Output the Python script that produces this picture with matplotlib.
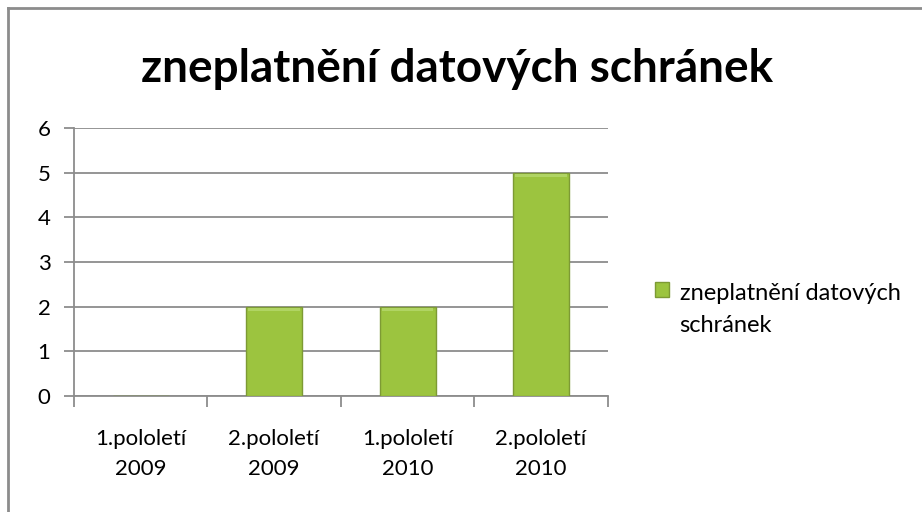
import matplotlib
matplotlib.use("Agg")
import matplotlib.pyplot as plt
from matplotlib.lines import Line2D
from matplotlib.patches import Patch
import numpy as np

categories = ["1.pololetí\n2009", "2.pololetí\n2009", "1.pololetí\n2010", "2.pololetí\n2010"]
values = [0, 2, 2, 5]
series_name = "zneplatnění datových\nschránek"
title = "zneplatnění datových schránek"

plt.rcParams['font.family'] = ['Lato', 'DejaVu Sans']

fig = plt.figure(figsize=(9.22, 5.12), dpi=100)
ax = fig.add_axes([0.0803, 0.2266, 0.5787, 0.5234])

x = np.arange(len(categories))
bars = ax.bar(x, values, width=0.42, color="#9cc43f", edgecolor="#7d9a34", linewidth=1.0, zorder=3)
# light top bevel
for b, v in zip(bars, values):
    if v > 0:
        ax.bar(b.get_x() + b.get_width() / 2, 0.08, bottom=v - 0.1, width=b.get_width() * 0.92,
               color="#b0d463", linewidth=0, zorder=4)

ax.set_xlim(-0.5, 3.5)
ax.set_ylim(0, 6)
ax.set_yticks(range(0, 7))
ax.yaxis.grid(True, color="#8c8c8c", linewidth=1.3, zorder=0)
ax.set_xticks(x)
ax.set_xticklabels(categories, fontsize=16, linespacing=1.6)
ax.set_xticks(np.arange(-0.5, 4.0, 1.0), minor=True)
ax.tick_params(axis='x', which='major', length=0, pad=24)
ax.tick_params(axis='x', which='minor', length=8, width=1.3, color="#8c8c8c", direction='out')
ax.tick_params(axis='y', length=7, width=1.3, color="#8c8c8c", labelsize=16, pad=10)
for s in ["top", "right"]:
    ax.spines[s].set_visible(False)
for s in ["left", "bottom"]:
    ax.spines[s].set_color("#8c8c8c")
    ax.spines[s].set_linewidth(1.3)
ax.set_axisbelow(True)

fig.text(0.496, 0.865, title, ha="center", va="center", fontsize=33, fontweight="bold")

handle = Patch(facecolor="#9cc43f", edgecolor="#7d9a34")
leg = fig.legend([handle], [series_name], loc="upper left", bbox_to_anchor=(0.700, 0.465),
                 frameon=False, fontsize=17, handlelength=0.6, handleheight=0.6,
                 handletextpad=0.45, borderaxespad=0)
for t in leg.get_texts():
    t.set_linespacing(1.65)
# align the legend swatch with the first text line
for h in leg.legend_handles:
    h.set_y(h.get_y() + 15)

# outer chart border (top and left visible)
fig.add_artist(Line2D([0.0087, 0.0087], [0, 1 - 8 / 512], transform=fig.transFigure, color="#8c8c8c", linewidth=2))
fig.add_artist(Line2D([0.0087, 1], [1 - 8 / 512, 1 - 8 / 512], transform=fig.transFigure, color="#8c8c8c", linewidth=2))

fig.savefig("out.png", dpi=100)
